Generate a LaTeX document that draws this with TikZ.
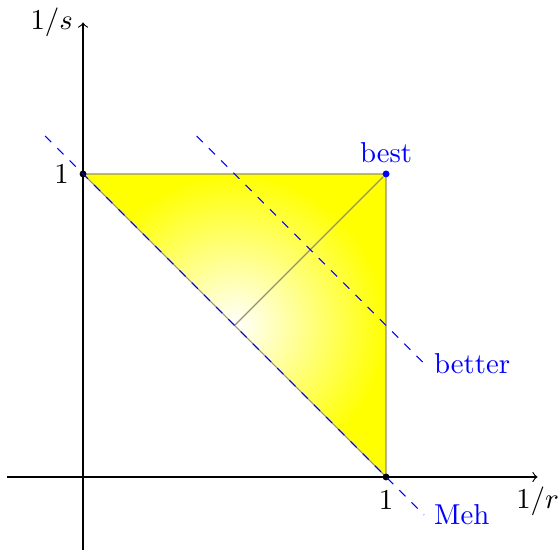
\documentclass[tikz,border=0pt]{standalone}
\begin{document}
\begin{tikzpicture}[x=3.7cm,y=3.7cm,
  edgecol/.style={draw={rgb,255:red,150;green,145;blue,110}},
  guide/.style={blue,dashed},
  dot/.style={circle,fill=#1,inner sep=0pt,minimum size=2.4pt},
  bluelbl/.style={text=blue}]
\useasboundingbox (-0.274,-0.238) rectangle (1.574,1.574);
\shade[inner color=white,outer color=yellow] (0,1) -- (1,1) -- (1,0) -- cycle;
\draw[edgecol] (0,1) -- (1,1) -- (1,0) -- cycle;
\coordinate (mid) at (0.5,0.5);
\draw[->] (-0.25,0) -- (1.5,0) node[below] (xl) {$1/r$};
\draw[->] (0,-0.24) -- (0,1.5) node[left] (yl) {$1/s$};
\node[dot=black,label=left:{$1$}] (a) at (0,1) {};
\node[dot=black,label=below:{$1$}] (b) at (1,0) {};
\node[dot=blue,label={[bluelbl,label distance=-1pt]above:best}] (best) at (1,1) {};
\draw[edgecol] (mid) -- (best);
\coordinate (m1) at (-0.125,1.125);
\coordinate (m2) at (1.125,-0.125);
\draw[guide] (m1) -- (m2) node[right,bluelbl] (meh) {Meh};
\coordinate (b1) at (0.375,1.125);
\coordinate (b2) at (1.125,0.375);
\draw[guide] (b1) -- (b2) node[right,bluelbl] (better) {better};
\end{tikzpicture}
\end{document}
